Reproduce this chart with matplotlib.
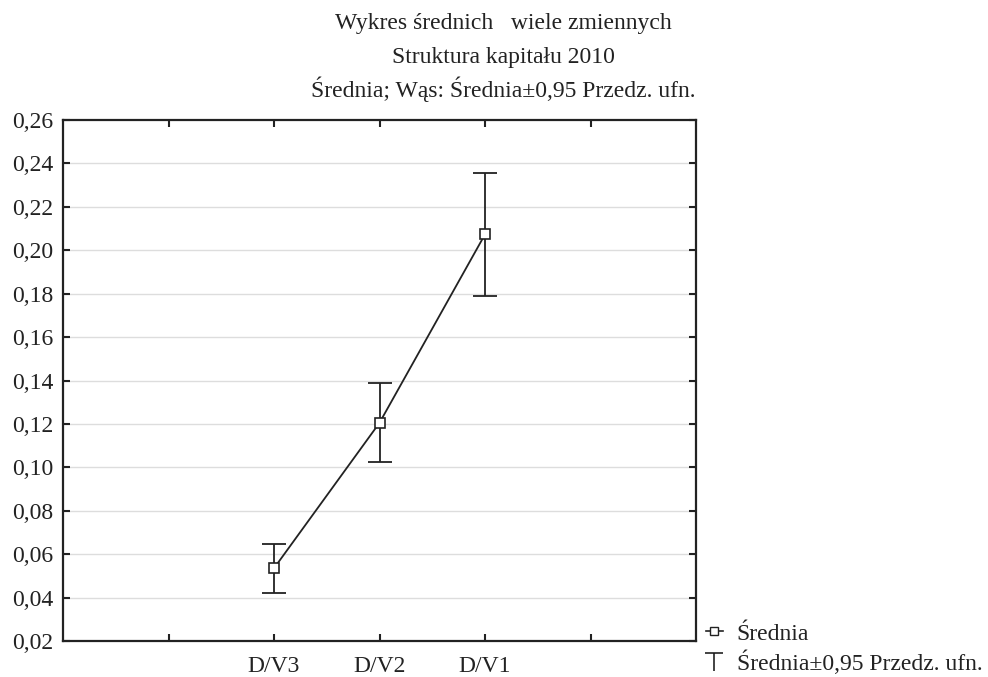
import matplotlib
matplotlib.use("Agg")
import matplotlib.pyplot as plt
from matplotlib.lines import Line2D
from matplotlib.path import Path

plt.rcParams['font.family'] = ['Liberation Serif', 'DejaVu Serif']

# data
categories = ['D/V3', 'D/V2', 'D/V1']
means = [0.0535, 0.1205, 0.2073]
ci_low = [0.0421, 0.1026, 0.1789]
ci_high = [0.0649, 0.1389, 0.2357]

yticks = [0.02, 0.04, 0.06, 0.08, 0.10, 0.12, 0.14, 0.16, 0.18, 0.20, 0.22, 0.24, 0.26]
ytick_labels = ['0,02', '0,04', '0,06', '0,08', '0,10', '0,12', '0,14',
                '0,16', '0,18', '0,20', '0,22', '0,24', '0,26']
title_lines = ['Wykres średnich   wiele zmiennych',
               'Struktura kapitału 2010',
               'Średnia; Wąs: Średnia±0,95 Przedz. ufn.']

W, H = 988, 677
FS = 17
fig = plt.figure(figsize=(W / 100, H / 100), dpi=100)
ax = fig.add_axes([63 / W, 1 - 641 / H, (696 - 63) / W, (641 - 120) / H])

xpos = [2, 3, 4]
err_lo = [m - l for m, l in zip(means, ci_low)]
err_hi = [h - m for m, h in zip(means, ci_high)]

dark = '#222222'
ax.errorbar(xpos, means, yerr=[err_lo, err_hi], fmt='none', ecolor=dark,
            elinewidth=1.3, capsize=8.5, capthick=1.3, zorder=3)
ax.plot(xpos, means, color=dark, lw=1.3, marker='s', markersize=7,
        markerfacecolor='white', markeredgecolor=dark, markeredgewidth=1.2, zorder=4)

ax.set_xlim(0, 6)
ax.set_ylim(0.02, 0.26)
ax.set_xticks([1, 2, 3, 4, 5])
ax.set_xticklabels(['', categories[0], categories[1], categories[2], ''])
ax.set_yticks(yticks)
ax.set_yticklabels(ytick_labels)
ax.tick_params(direction='in', length=5, width=1.5, color=dark,
               top=True, right=True, labelsize=FS, labelcolor='#222222')
ax.tick_params(axis='y', pad=7)
ax.tick_params(axis='x', pad=11)

for y in yticks[1:-1]:
    ax.axhline(y, color='#dddddd', lw=1, zorder=0)

for s in ax.spines.values():
    s.set_linewidth(1.6)
    s.set_color(dark)

for i, t in enumerate(title_lines):
    fig.text(503 / W, 1 - (29 + 34 * i) / H, t, ha='center', va='baseline',
             fontsize=FS, color='#222222')

# legend: open square on a line, and a thin T for the whisker
tee = Path([(-1, 1), (1, 1), (0, 1), (0, -1)],
           [Path.MOVETO, Path.LINETO, Path.MOVETO, Path.LINETO])
h1 = Line2D([], [], color=dark, lw=1.2, marker='s', markersize=6,
            markerfacecolor='white', markeredgecolor=dark)
h2 = Line2D([], [], color=dark, lw=0, marker=tee, markersize=13,
            markeredgewidth=1.2, markerfacecolor='none', markeredgecolor=dark)
fig.legend([h1, h2], ['Średnia', 'Średnia±0,95 Przedz. ufn.'],
           loc='lower left', bbox_to_anchor=(706 / W, 1 - 675 / H),
           frameon=False, fontsize=FS, handlelength=0.7, handletextpad=0.6,
           labelspacing=0.25, borderpad=0, borderaxespad=0, labelcolor='#222222')

fig.savefig('out.png', dpi=100)
